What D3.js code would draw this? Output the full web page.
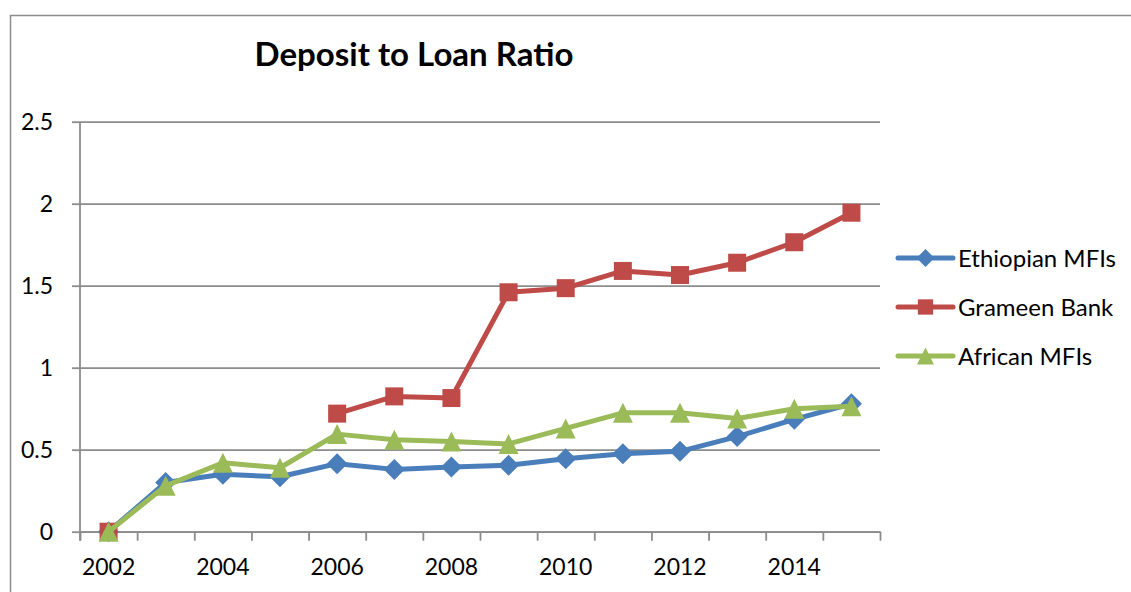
<!DOCTYPE html>
<html>
<head>
<meta charset="utf-8">
<script src="https://cdn.jsdelivr.net/npm/d3@7"></script>
<style>
  html, body { margin: 0; padding: 0; background: #fff; }
  svg { display: block; }
  text { font-family: Lato, "Open Sans", sans-serif; fill: #000; }
</style>
</head>
<body>
<svg id="chart" width="1131" height="592"></svg>
<script>
// Deposit to loan ratio, 2002–2015
const years = [2002, 2003, 2004, 2005, 2006, 2007, 2008, 2009, 2010, 2011, 2012, 2013, 2014, 2015];
const yearLabels = [2002, 2004, 2006, 2008, 2010, 2012, 2014];
const ethiopianMFIs = [0, 0.30, 0.35, 0.335, 0.415, 0.38, 0.395, 0.405, 0.445, 0.475, 0.49, 0.58, 0.685, 0.78];
const grameenBank = [0, null, null, null, 0.72, 0.825, 0.815, 1.46, 1.485, 1.59, 1.565, 1.64, 1.765, 1.945];
const africanMFIs = [0, 0.28, 0.42, 0.39, 0.595, 0.56, 0.55, 0.535, 0.63, 0.725, 0.725, 0.69, 0.75, 0.765];
const yTicks = [0, 0.5, 1, 1.5, 2, 2.5];
const seriesNames = ["Ethiopian MFIs", "Grameen Bank", "African MFIs"];

const series = [
  { name: seriesNames[0], values: ethiopianMFIs, color: "#4A7EBB", marker: "diamond" },
  { name: seriesNames[1], values: grameenBank,   color: "#BE4B48", marker: "square" },
  { name: seriesNames[2], values: africanMFIs,   color: "#9BBB59", marker: "triangle" }
];

const svg = d3.select("#chart");
const gridColor = "#8C8C8C";

// outer chart-area frame (runs off the right and bottom edges)
svg.append("rect")
  .attr("x", 10.5).attr("y", 15.5)
  .attr("width", 1200).attr("height", 700)
  .attr("fill", "none").attr("stroke", "#8C8C8C").attr("stroke-width", 1.5);

const plot = { left: 80, right: 880, top: 121.7, bottom: 531.7 };

const x = d3.scaleBand().domain(years).range([plot.left, plot.right]).padding(0);
const xEdge = d3.scaleLinear().domain([0, years.length]).range([plot.left, plot.right]);
const y = d3.scaleLinear().domain([0, 2.5]).range([plot.bottom, plot.top]);
const cx = d => x(d) + x.bandwidth() / 2;

// horizontal gridlines
svg.append("g")
  .attr("transform", `translate(${plot.left},0)`)
  .call(d3.axisLeft(y).tickValues(yTicks).tickSize(-(plot.right - plot.left)).tickFormat(""))
  .call(g => g.select(".domain").remove())
  .call(g => g.selectAll("line").attr("stroke", gridColor).attr("stroke-width", 1.8));

// y axis with outside ticks
svg.append("g")
  .attr("transform", `translate(${plot.left},0)`)
  .call(d3.axisLeft(y).tickValues(yTicks).tickSize(8).tickPadding(19).tickSizeOuter(0)
    .tickFormat(d => d3.format("")(d)))
  .call(g => g.select(".domain").attr("stroke", gridColor).attr("stroke-width", 1.8)
    .attr("d", `M0,${plot.top}V${plot.bottom + 9}`))
  .call(g => g.selectAll("line").attr("stroke", gridColor).attr("stroke-width", 1.8))
  .call(g => g.selectAll("text").style("font-size", "23px").style("font-family", "Lato"));

// x axis: tick marks on category boundaries
svg.append("g")
  .attr("transform", `translate(0,${plot.bottom})`)
  .call(d3.axisBottom(xEdge).tickValues(d3.range(years.length + 1)).tickSize(9).tickSizeOuter(0).tickFormat(""))
  .call(g => g.select(".domain").attr("stroke", gridColor).attr("stroke-width", 1.8))
  .call(g => g.selectAll("line").attr("stroke", gridColor).attr("stroke-width", 1.8));

// x axis labels centred in every other category
svg.append("g")
  .attr("transform", `translate(0,${plot.bottom})`)
  .call(d3.axisBottom(x).tickValues(yearLabels).tickSize(0).tickPadding(0))
  .call(g => g.select(".domain").remove())
  .call(g => g.selectAll("text").attr("y", 43).attr("dy", null)
    .style("font-size", "23px").style("font-family", "Lato"));

// marker symbols
function markerPath(kind, scale) {
  const s = scale || 1;
  if (kind === "diamond") {
    const r = 10.5 * s;
    return `M0,${-r}L${r},0L0,${r}L${-r},0Z`;
  }
  if (kind === "square") {
    const h = 9 * s;
    return `M${-h},${-h}H${h}V${h}H${-h}Z`;
  }
  const w = 10 * s, t = 10 * s;
  return `M0,${-t}L${w},${t}L${-w},${t}Z`;
}

const line = d3.line()
  .defined(d => d.v !== null)
  .x(d => cx(d.year))
  .y(d => y(d.v));

series.forEach(s => {
  const pts = years.map((yr, i) => ({ year: yr, v: s.values[i] }));
  const g = svg.append("g");
  g.append("path")
    .datum(pts)
    .attr("d", line)
    .attr("fill", "none")
    .attr("stroke", s.color)
    .attr("stroke-width", 5)
    .attr("stroke-linejoin", "round")
    .attr("stroke-linecap", "round");
  g.selectAll("path.m")
    .data(pts.filter(d => d.v !== null))
    .join("path")
    .attr("class", "m")
    .attr("transform", d => `translate(${cx(d.year)},${y(d.v)})`)
    .attr("d", markerPath(s.marker))
    .attr("fill", s.color);
});

// title
svg.append("text")
  .attr("x", 414).attr("y", 66)
  .attr("text-anchor", "middle")
  .style("font-size", "33px").style("font-weight", "bold")
  .text("Deposit to Loan Ratio");

// legend
const legend = svg.append("g").selectAll("g")
  .data(series)
  .join("g")
  .attr("transform", (d, i) => `translate(0,${258 + i * 49})`);
legend.append("line")
  .attr("x1", 898).attr("x2", 953)
  .attr("stroke", d => d.color).attr("stroke-width", 5).attr("stroke-linecap", "round");
legend.append("path")
  .attr("transform", "translate(925.5,0)")
  .attr("d", d => markerPath(d.marker, 0.85))
  .attr("fill", d => d.color);
legend.append("text")
  .attr("x", 958).attr("y", 8.5)
  .style("font-size", "24px")
  .text(d => d.name);
</script>
</body>
</html>
